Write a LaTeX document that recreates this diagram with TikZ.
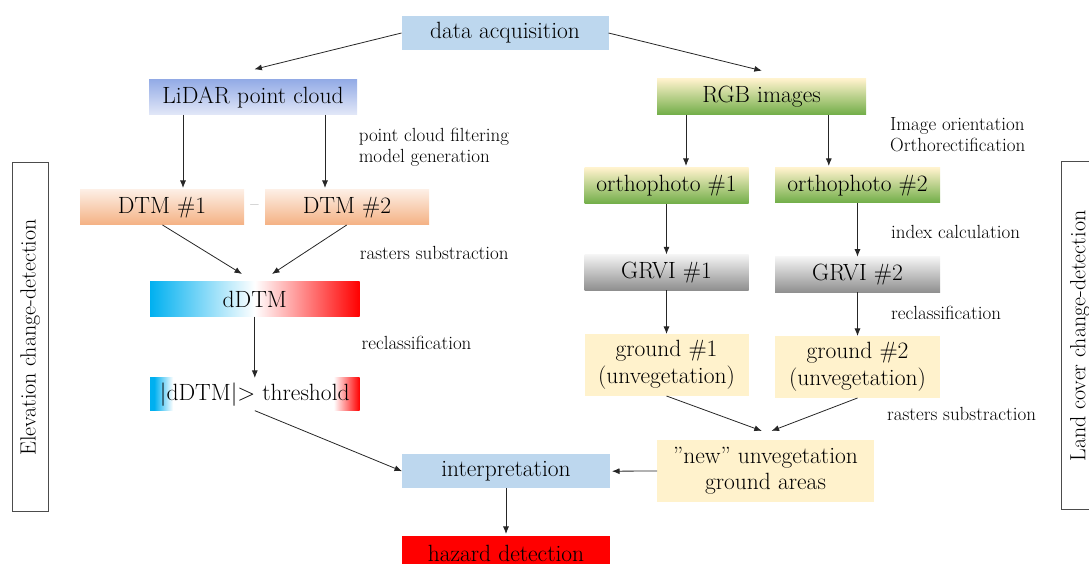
\documentclass[tikz,border=0pt]{standalone}
\usetikzlibrary{arrows.meta,calc}
\definecolor{acqblue}{HTML}{BDD7EE}
\definecolor{lidtop}{HTML}{94ACE6}
\definecolor{lidbot}{HTML}{E3E8F8}
\definecolor{dtmtop}{HTML}{FDEEE4}
\definecolor{dtmbot}{HTML}{F4B183}
\definecolor{grtop}{HTML}{FFF2CC}
\definecolor{grbot}{HTML}{70AD47}
\definecolor{gvtop}{HTML}{F5F5F5}
\definecolor{gvbot}{HTML}{8F8F8F}
\definecolor{pale}{HTML}{FFF2CC}
\definecolor{dcyan}{HTML}{00B0F0}
\definecolor{dred}{HTML}{FF0000}
\pgfdeclarehorizontalshading{thrshade}{100bp}{color(0bp)=(dcyan); color(25bp)=(dcyan); color(26bp)=(dcyan); color(30.5bp)=(white); color(68.8bp)=(white); color(75bp)=(dred); color(100bp)=(dred)}
\pgfdeclarehorizontalshading{dshade}{100bp}{color(0bp)=(dcyan); color(25bp)=(dcyan); color(50bp)=(white); color(75bp)=(dred); color(100bp)=(dred)}
\newcommand\bigf{\fontsize{23.5}{27}\selectfont}
\newcommand\smallf{\fontsize{19}{20.8}\selectfont}
\newcommand\sidef{\fontsize{22}{27}\selectfont}
\tikzset{
  box/.style={inner sep=0pt, outer sep=0pt, font=\bigf, align=center},
  lab/.style={inner sep=0pt, font=\smallf, anchor=west, align=left},
  side/.style={draw=black!70, line width=1pt, rotate=90, inner sep=0pt, font=\sidef, minimum height=36.5pt},
  arr/.style={-{Latex[length=7.5pt,width=6pt]}, line width=0.8pt, draw=black!85},
}
\begin{document}
\begin{tikzpicture}[x=1pt,y=1pt]
\useasboundingbox (0,0) rectangle (1089,564);
% nodes
\node[box, fill=acqblue, minimum width=207pt, minimum height=34pt] (acq) at (505,531) {data acquisition};
\node[box, top color=lidtop, bottom color=lidbot, minimum width=208pt, minimum height=35pt] (lidar) at (253,466.5) {LiDAR point cloud};
\node[box, top color=grtop, bottom color=grbot, minimum width=209pt, minimum height=36pt] (rgb) at (761.5,467) {RGB images};
\node[box, top color=dtmtop, bottom color=dtmbot, minimum width=164pt, minimum height=35pt] (dtm1) at (162,356.5) {DTM \#1};
\node[box, top color=dtmtop, bottom color=dtmbot, minimum width=164pt, minimum height=35pt] (dtm2) at (347,356.5) {DTM \#2};
\node[box, text=black!55, font=\fontsize{18}{20}\selectfont] (minus) at (254.5,356.5) {–};
\node[box, shading=dshade, minimum width=209.6pt, minimum height=35pt] (ddtm) at (254.8,264.8) {dDTM};
\node[box, shading=thrshade, minimum width=209.6pt, minimum height=32.7pt] (thr) at (254.8,169.7) {|dDTM|> threshold};
\node[box, fill=acqblue, minimum width=208pt, minimum height=34.3pt] (interp) at (506,92.8) {interpretation};
\node[box, fill=dred, minimum width=208pt, minimum height=34pt] (hazard) at (506,11) {hazard detection};
\node[box, top color=grtop, bottom color=grbot, minimum width=164pt, minimum height=36pt] (ortho1) at (666.5,378) {orthophoto \#1};
\node[box, top color=grtop, bottom color=grbot, minimum width=165pt, minimum height=35pt] (ortho2) at (857.5,378.5) {orthophoto \#2};
\node[box, top color=gvtop, bottom color=gvbot, minimum width=164pt, minimum height=35.7pt] (grvi1) at (666.5,291.8) {GRVI \#1};
\node[box, top color=gvtop, bottom color=gvbot, minimum width=165pt, minimum height=35.6pt] (grvi2) at (857.5,289.5) {GRVI \#2};
\node[box, fill=pale, minimum width=164pt, minimum height=62pt] (ground1) at (666.5,199) {ground \#1\\(unvegetation)};
\node[box, fill=pale, minimum width=165pt, minimum height=62pt] (ground2) at (857.5,197) {ground \#2\\(unvegetation)};
\node[box, fill=pale, minimum width=217pt, minimum height=61.6pt, font=\fontsize{23.5}{26}\selectfont] (new) at (765.5,93) {”new” unvegetation\\ground areas};
\node[side, minimum width=349pt] (leftbox) at (30.25,226.5) {Elevation change-detection};
\node[side, minimum width=348pt] (rightbox) at (1080,228) {Land cover change-detection};
% labels
\node[lab] (l1) at (358.6,417) {point cloud filtering\\model generation};
\node[lab] (l2) at (359.6,311.3) {rasters substraction};
\node[lab] (l3) at (361.4,220.7) {reclassification};
\node[lab] (l4) at (890,429.5) {Image orientation\\Orthorectification};
\node[lab] (l5) at (891,332.3) {index calculation};
\node[lab] (l6) at (891,251) {reclassification};
\node[lab] (l7) at (887,150) {rasters substraction};
% connectors
\draw[arr] (acq.west) -- ($(lidar.north)+(1.4,10.7)$);
\draw[arr] (acq.east) -- ($(rgb.north)+(0.3,8.3)$);
\draw[arr] ($(lidar.south)+(-70,0)$) -- ($(dtm1.north)+(21,2)$);
\draw[arr] ($(lidar.south)+(72,0)$) -- ($(dtm2.north)+(-22,2)$);
\draw[arr] ($(dtm1.south)+(0.5,0)$) -- ($(ddtm.north)+(-12.8,7.7)$);
\draw[arr] ($(dtm2.south)+(-0.3,0)$) -- ($(ddtm.north)+(17.2,7.7)$);
\draw[arr] (ddtm.south) -- (thr.north);
\draw[arr] (thr.south) -- (interp.west);
\draw[arr] (interp.south) -- ($(hazard.north)+(0,2)$);
\draw[arr] (new.west) -- ($(interp.east)+(2,0)$);
\draw[arr] ($(rgb.south)+(-75.5,0)$) -- ($(ortho1.north)+(19.5,2)$);
\draw[arr] ($(rgb.south)+(67.3,0)$) -- ($(ortho2.north)+(-28.7,2)$);
\draw[arr] (ortho1.south) -- (grvi1.north);
\draw[arr] (ortho2.south) -- (grvi2.north);
\draw[arr] (grvi1.south) -- (ground1.north);
\draw[arr] (grvi2.south) -- (ground2.north);
\draw[arr] (ground1.south) -- ($(new.north)+(-3.7,9.3)$);
\draw[arr] (ground2.south) -- ($(new.north)+(6.1,9.3)$);
\end{tikzpicture}
\end{document}
